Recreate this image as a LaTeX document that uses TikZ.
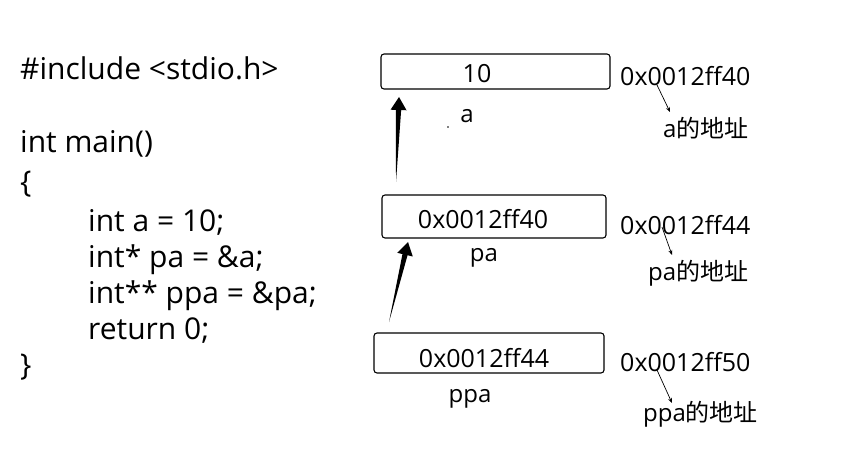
\documentclass[tikz,border=0pt]{standalone}
\usepackage{fontspec}
\setmainfont{Open Sans}
\newfontfamily\cjk{Noto Sans CJK SC}
\usetikzlibrary{calc,arrows.meta}
\tikzset{
  code/.style={anchor=base west,inner sep=0pt,font=\fontsize{30}{30}\selectfont},
  val/.style={anchor=base,inner sep=0pt,font=\fontsize{25}{25}\selectfont},
  lbl/.style={anchor=base,inner sep=0pt,font=\fontsize{24}{24}\selectfont},
  memcell/.style={draw,line width=1.1pt,rounded corners=3pt},
  note/.style={-{Stealth[length=5pt,width=4pt]},line width=0.7pt},
}
\newcommand\wedgearrow[2]{%
  \coordinate (hb) at ($(#2)!13pt!(#1)$);
  \fill (#1) -- ($(hb)!2.6pt!90:(#2)$) -- ($(hb)!8pt!90:(#2)$) -- (#2)
        -- ($(hb)!8pt!-90:(#2)$) -- ($(hb)!2.6pt!-90:(#2)$) -- cycle;}
\begin{document}
\begin{tikzpicture}[x=1pt,y=-1pt]
\useasboundingbox (0,0) rectangle (842,462);
% code
\node[code] (c1) at (20,79.5) {\#include <stdio.h>};
\node[code] (c2) at (20,152.5) {int main()};
\node[code] (c3) at (20,192.5) {\{};
\node[code] (c4) at (88,231.5) {int a = 10;};
\node[code] (c5) at (88,267.5) {int* pa = \&a;};
\node[code] (c6) at (88,303.5) {int** ppa = \&pa;};
\node[code] (c7) at (88,339.5) {return 0;};
\node[code] (c8) at (20,375.5) {\}};
% memory boxes
\draw[memcell] (381,54) rectangle (610,89);
\draw[memcell] (382,195) rectangle (606,238);
\draw[memcell] (374,333) rectangle (604,373);
\node[val] (va) at (477,83) {10};
\node[val] (vpa) at (483,229) {0x0012ff40};
\node[val] (vppa) at (484,367) {0x0012ff44};
\node[lbl] (na) at (467,123) {a};
\node[lbl] (npa) at (484,261) {pa};
\node[lbl] (nppa) at (470,402) {ppa};
\fill (448,127) circle (0.8);
% addresses
\node[val,anchor=base west] (ada) at (620,86) {0x0012ff40};
\node[val,anchor=base west] (adpa) at (620,234) {0x0012ff44};
\node[val,anchor=base west] (adppa) at (620,371) {0x0012ff50};
\node[lbl,anchor=base west] (la) at (663,138) {a{\cjk 的地址}};
\node[lbl,anchor=base west] (lpa) at (648,280) {pa{\cjk 的地址}};
\node[lbl,anchor=base west] (lppa) at (643,421) {ppa{\cjk 的地址}};
\coordinate (s1) at (657,85); \coordinate (e1) at (670,112);
\coordinate (s2) at (662,227); \coordinate (e2) at (672,255);
\coordinate (s3) at (657,370); \coordinate (e3) at (672,403);
\draw[note] (s1) -- (e1);
\draw[note] (s2) -- (e2);
\draw[note] (s3) -- (e3);
% pointer arrows
\coordinate (t1) at (396,182); \coordinate (p1) at (399,97);
\coordinate (t2) at (389,322); \coordinate (p2) at (408,242);
\wedgearrow{t1}{p1}
\wedgearrow{t2}{p2}
\end{tikzpicture}
\end{document}
